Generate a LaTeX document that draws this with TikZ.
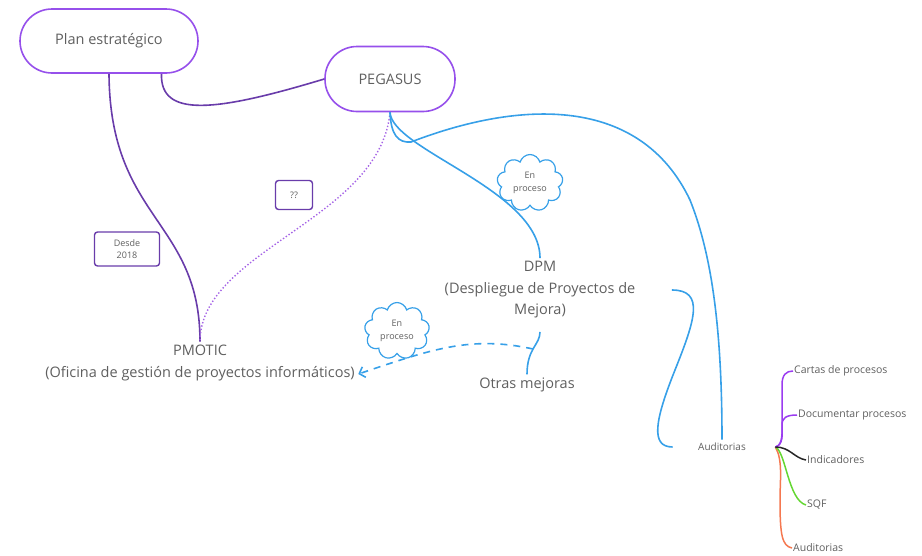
\documentclass[tikz,border=0pt]{standalone}
\usepackage{fontspec}
\setmainfont{Open Sans}
\usetikzlibrary{shapes.symbols,arrows.meta}
\definecolor{pillpurple}{RGB}{150,80,235}
\definecolor{linkpurple}{RGB}{105,60,170}
\definecolor{dotpurple}{RGB}{165,100,230}
\definecolor{skyblue}{RGB}{55,160,232}
\definecolor{textgray}{RGB}{95,95,95}
\definecolor{brightviolet}{RGB}{155,60,240}
\definecolor{leafgreen}{RGB}{100,215,50}
\definecolor{leaforange}{RGB}{245,120,80}
\tikzset{
  pill/.style={draw=pillpurple, line width=1.6pt, rounded corners=32pt, text=textgray,
    font=\fontsize{14.5}{17}\selectfont},
  tag/.style={draw=linkpurple, line width=1.4pt, rounded corners=3pt, text=textgray,
    font=\fontsize{9}{12}\selectfont, align=center},
  bubble/.style={cloud, cloud puffs=9, draw=skyblue, fill=white, line width=1.2pt,
    text=textgray, font=\fontsize{9}{12.5}\selectfont, align=center, inner sep=0pt},
  topic/.style={text=textgray, font=\fontsize{14.5}{21.5}\selectfont, align=center},
  leaf/.style={text=textgray, font=\fontsize{10.5}{12}\selectfont, anchor=west, inner sep=1pt},
  link/.style={draw=linkpurple, line width=1.6pt},
  flow/.style={draw=skyblue, line width=1.6pt}
}
\begin{document}
\begin{tikzpicture}[x=1pt,y=-1pt]
  \useasboundingbox (0,0) rectangle (922,555);
  % Boxes
  \node[pill, minimum width=178pt, minimum height=64pt] (plan) at (109,41) {Plan estratégico};
  \node[pill, minimum width=130pt, minimum height=65pt] (pegasus) at (390,79) {PEGASUS};
  \node[tag, minimum width=65pt, minimum height=34pt] (desde) at (127,249) {Desde\\2018};
  \node[tag, minimum width=37pt, minimum height=29pt] (qq) at (294,195) {??};
  % Topics
  \node[topic] (pmotic) at (200,363) {PMOTIC\\(Oficina de gestión de proyectos informáticos)};
  \node[topic] (dpm) at (540,290) {DPM\\(Despliegue de Proyectos de\\Mejora)};
  \node[topic] (otras) at (527,385) {Otras mejoras};
  \node[text=textgray, font=\fontsize{10}{12}\selectfont] (audit) at (722,447) {Auditorias};
  % Purple links
  \draw[link] (plan.-32) .. controls (160,118) and (215,112) .. (pegasus.west);
  \draw[link] (plan.south) .. controls (110,220) and (200,220) .. (pmotic.north);
  \draw[draw=dotpurple, line width=1.4pt, dotted] (pegasus.south) .. controls (380,220) and (200,250) .. (pmotic.north);
  % Blue links
  \coordinate (bend) at (411,142);
  \draw[flow] (pegasus.south) .. controls (392,150) and (540,190) .. (dpm.north);
  \draw[flow] (pegasus.south) .. controls (391,135) and (398,143) .. (bend)
    .. controls (520,100) and (640,95) .. (690,200)
    .. controls (712,255) and (722,330) .. (audit.north);
  \draw[flow, shorten <=33pt, shorten >=22pt] (dpm.east) .. controls (705,290) and (695,320) .. (675,370)
    .. controls (655,420) and (650,447) .. (audit.west);
  \draw[flow, shorten <=10pt] (dpm.south) .. controls (540,345) and (527,348) .. (otras.north);
  \coordinate (split) at (533,349);
  \draw[flow, dash pattern=on 7pt off 6pt, -{Straight Barb[length=5pt,width=11pt]}]
    (split) .. controls (470,335) and (430,350) .. ([yshift=-11pt]pmotic.east);
  % Clouds
  \node[bubble, minimum width=66pt, minimum height=56pt] (inprogA) at (530,183) {En\\proceso};
  \node[bubble, minimum width=65pt, minimum height=52pt] (inprogB) at (397,331) {En\\proceso};
  % Auditorias branches
  \node[leaf] (cartas) at (793,371) {Cartas de procesos};
  \node[leaf] (docu) at (797,415) {Documentar procesos};
  \node[leaf] (indic) at (806,460) {Indicadores};
  \node[leaf] (sqf) at (806,505) {SQF};
  \node[leaf] (audit2) at (792,548) {Auditorias};
  \coordinate (fork) at ([xshift=26pt]audit.east);
  \draw[draw=leaforange, line width=1.5pt] (fork) .. controls (783,460) and (780,480) .. (780,500)
    .. controls (780,535) and (782,546) .. (audit2.west);
  \draw[draw=leafgreen, line width=1.5pt] (fork) .. controls (786,452) and (788,500) .. (sqf.west);
  \draw[draw=brightviolet, line width=1.5pt] (fork) .. controls (784,445) and (782,430) .. (782,410)
    -- (782,385) .. controls (782,375) and (786,371) .. (cartas.west);
  \draw[draw=brightviolet, line width=1.5pt] (fork) .. controls (784,445) and (782,432) .. (782,425)
    .. controls (782,418) and (786,415) .. (docu.west);
  \draw[draw=black!85, line width=1.5pt] (fork) .. controls (790,447) and (794,458) .. (indic.west);
\end{tikzpicture}
\end{document}
